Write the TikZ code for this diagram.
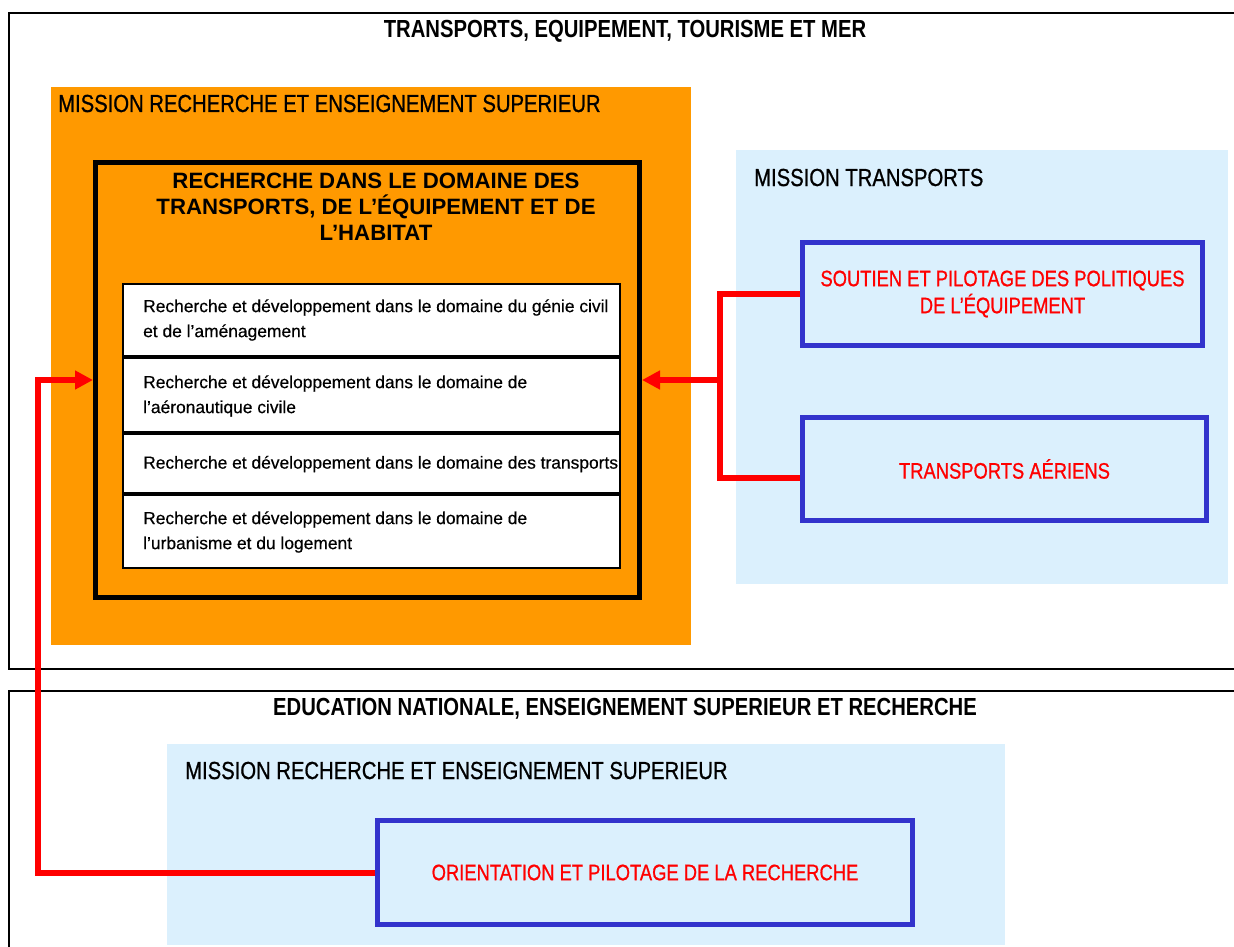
\documentclass[tikz,border=0pt]{standalone}
\usepackage{fontspec}
\setmainfont{Liberation Sans}
\newfontfamily\narrow[FakeStretch=0.82]{Liberation Sans}
\newfontfamily\narrowheavy[FakeStretch=0.82,FakeBold=0.8]{Liberation Sans}
\newfontfamily\rowfont[FakeBold=0.4]{Liberation Sans}
\usetikzlibrary{arrows.meta}
\definecolor{mango}{HTML}{FF9900}
\definecolor{sky}{HTML}{DBF0FD}
\definecolor{ink}{HTML}{3333CC}
\definecolor{signal}{HTML}{FF0000}

\begin{document}
\begin{tikzpicture}[x=1pt,y=-1pt,
  frame/.style={draw=black, line width=2pt},
  bigtitle/.style={font=\narrow\bfseries\fontsize{24.7}{29}\selectfont, inner sep=0pt, anchor=base},
  mission/.style={font=\narrowheavy\fontsize{24.7}{29}\selectfont, inner sep=0pt, anchor=base west},
  panel/.style={fill=#1, draw=none, inner sep=0pt, anchor=north west},
  actionbox/.style={draw=ink, fill=sky, line width=5pt, inner sep=0pt, align=center,
    text=signal, font=\narrowheavy\fontsize{22.4}{27}\selectfont},
  programme/.style={draw=black, line width=5pt, inner sep=0pt},
  rowbox/.style={draw=black, fill=white, line width=2pt, inner sep=0pt,
    minimum width=497pt},
  rowtext/.style={font=\rowfont\fontsize{17.4}{25}\selectfont, inner sep=0pt, anchor=west, align=left},
  redline/.style={draw=signal, line width=6pt},
  redarrow/.style={redline, -{Triangle[length=18pt,width=18pt]}}
]
\useasboundingbox (0,0) rectangle (1234,947);
\clip (0,0) rectangle (1234,947);

% ministry frames
\node[frame, inner sep=0pt, anchor=north west, minimum width=1260pt, minimum height=656pt] (minA) at (8,12) {};
\node[frame, inner sep=0pt, anchor=north west, minimum width=1260pt, minimum height=300pt] (minB) at (8,690) {};
\node[bigtitle] (minAtitle) at (625,38) {TRANSPORTS, EQUIPEMENT, TOURISME ET MER};
\node[bigtitle] (minBtitle) at (625,715) {EDUCATION NATIONALE, ENSEIGNEMENT SUPERIEUR ET RECHERCHE};

% mission panels
\node[panel=mango, minimum width=640pt, minimum height=558pt] (mires) at (51,87) {};
\node[mission] (mireslabel) at (58,112) {MISSION RECHERCHE ET ENSEIGNEMENT SUPERIEUR};

\node[panel=sky, minimum width=492pt, minimum height=434pt] (mitrans) at (736,150) {};
\node[mission] (mitranslabel) at (754,186) {MISSION TRANSPORTS};

\node[panel=sky, minimum width=838pt, minimum height=201pt] (miresB) at (167,744) {};
\node[mission] (miresBlabel) at (185,779) {MISSION RECHERCHE ET ENSEIGNEMENT SUPERIEUR};

% programme and its actions
\node[programme, minimum width=544pt, minimum height=435pt] (prog) at (367.5,380) {};
\node[font=\bfseries\fontsize{22.2}{26}\selectfont, align=center, inner sep=0pt] (progtitle) at (376,207)
  {RECHERCHE DANS LE DOMAINE DES\\TRANSPORTS, DE L’ÉQUIPEMENT ET DE\\L’HABITAT};

\node[rowbox, minimum height=72pt] (row1) at (371.5,320) {};
\node[rowbox, minimum height=74pt] (row2) at (371.5,395) {};
\node[rowbox, minimum height=59pt] (row3) at (371.5,463.5) {};
\node[rowbox, minimum height=73pt] (row4) at (371.5,531.5) {};
\node[rowtext] (row1text) at (143,320) {Recherche et développement dans le domaine du génie civil\\et de l’aménagement};
\node[rowtext] (row2text) at (143,396) {Recherche et développement dans le domaine de\\l’aéronautique civile};
\node[rowtext] (row3text) at (143,464) {Recherche et développement dans le domaine des transports};
\node[rowtext] (row4text) at (143,532) {Recherche et développement dans le domaine de\\l’urbanisme et du logement};

% contributing programmes
\node[actionbox, minimum width=400pt, minimum height=103pt] (pilot) at (1002.5,294)
  {SOUTIEN ET PILOTAGE DES POLITIQUES\\DE L’ÉQUIPEMENT};
\node[actionbox, minimum width=404pt, minimum height=103pt] (aerien) at (1004.5,469)
  {TRANSPORTS AÉRIENS};
\node[actionbox, minimum width=535pt, minimum height=104pt] (orient) at (645,872.5)
  {ORIENTATION ET PILOTAGE DE LA RECHERCHE};

% connectors
\coordinate (jr) at (720,380);
\coordinate (jl) at (38,380);
\draw[redline] (pilot.west) -- (pilot.west -| jr) |- ([yshift=-9pt]aerien.west);
\draw[redarrow] (jr) -- (prog.east);
\draw[redarrow] (orient.west) -| (jl) -- (prog.west);
\end{tikzpicture}
\end{document}
